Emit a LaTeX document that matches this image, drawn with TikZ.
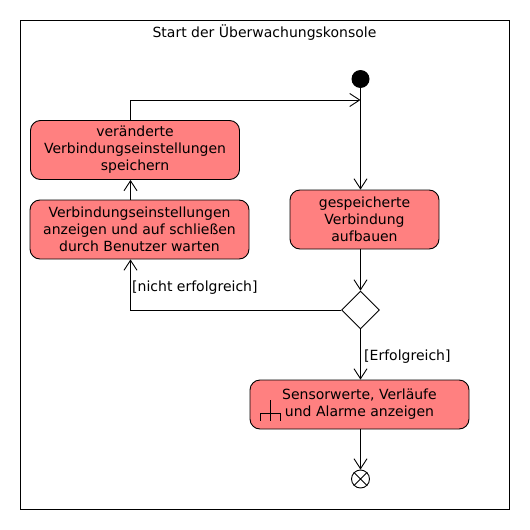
\documentclass[tikz,border=0pt]{standalone}
\usepackage{fontspec}
\setmainfont{DejaVu Sans}
\usetikzlibrary{shapes.geometric,arrows.meta}
\definecolor{actfill}{HTML}{FF8080}
\tikzset{
  every node/.style={font=\fontsize{14}{17}\selectfont},
  action/.style={draw=black, fill=actfill, rounded corners=10pt, line width=0.9pt, align=center, inner sep=0pt},
  arr/.style={line width=0.9pt, -{Straight Barb[length=10pt,width=13pt,line width=0.9pt]}},
  plain/.style={line width=0.9pt}
}
\begin{document}
\begin{tikzpicture}[x=1pt,y=-1pt]
\useasboundingbox (0,0) rectangle (530,530);
\draw[plain] (20.5,20.5) rectangle (509.5,509.5);
\node (title) at (264.5,33) {Start der Überwachungskonsole};
\coordinate (col) at (360.5,0);
\coordinate (xl) at (130.5,0);
\coordinate (m) at (360.5,100);
\node[circle, fill=black, minimum size=18pt, inner sep=0pt] (start) at (360.5,79) {};
\node[action, minimum width=149pt, minimum height=59pt] (gesp) at (364.5,219.5) {gespeicherte\\Verbindung\\aufbauen};
\node[diamond, draw, plain, fill=white, minimum width=38pt, minimum height=38pt, inner sep=0pt] (dia) at (360.5,310) {};
\node[action, minimum width=219pt, minimum height=49pt] (sens) at (359.5,404.5) {Sensorwerte, Verläufe\\und Alarme anzeigen};
\node[circle, draw, plain, minimum size=18pt, inner sep=0pt] (end) at (360.5,479) {};
\node[action, minimum width=209pt, minimum height=59pt] (ver) at (135,150) {veränderte\\Verbindungseinstellungen\\speichern};
\node[action, minimum width=219pt, minimum height=59pt] (anz) at (139.5,229.5) {Verbindungseinstellungen\\anzeigen und auf schließen\\durch Benutzer warten};
% connectors
\draw[arr] (start) -- (gesp.north -| col);
\draw[arr] (ver.north -| xl) |- (m);
\draw[arr] (gesp.south -| col) -- (dia.north);
\draw[arr] (dia.west) -| (anz.south -| xl);
\draw[arr] (anz.north -| xl) -- (ver.south -| xl);
\draw[arr] (dia.south) -- (sens.north -| col);
\draw[arr] (sens.south -| col) -- (end.north);
\draw[plain] (end.north west) -- (end.south east) (end.north east) -- (end.south west);
% labels
\node[anchor=west, inner sep=0pt] (lnicht) at (132,288) {[nicht erfolgreich]};
\node[anchor=west, inner sep=0pt] (lerf) at (364,357) {[Erfolgreich]};
% rake symbol
\draw[plain] (260,413) -- (280,413) (270,400) -- (270,421) (260,413) -- (260,421) (280,413) -- (280,421);
\end{tikzpicture}
\end{document}
